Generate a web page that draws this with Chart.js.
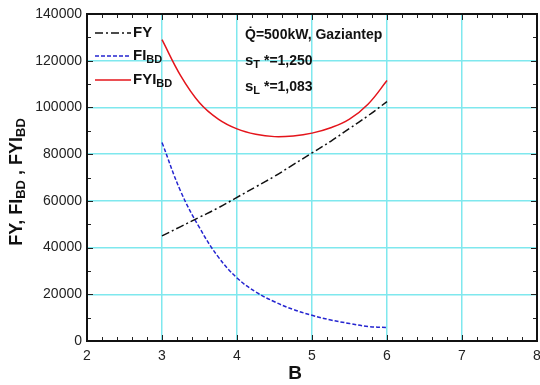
<!DOCTYPE html>
<html>
<head>
<meta charset="utf-8">
<script src="https://cdn.jsdelivr.net/npm/chart.js@4/dist/chart.umd.min.js"></script>
<style>
  html, body { margin: 0; padding: 0; background: #fff; }
  #wrap { width: 540px; height: 385px; position: relative; }
</style>
</head>
<body>
<div id="wrap"><canvas id="fyChart"></canvas></div>
<script>
// B values and cost curves
const bValues = [3, 3.25, 3.5, 3.75, 4, 4.25, 4.5, 4.75, 5, 5.25, 5.5, 5.75, 6];
const fyValues = [45000, 49000, 53000, 57000, 61500, 66000, 70500, 75500, 80500, 85500, 91000, 96500, 102500];
const fiValues = [85000, 64000, 48500, 36000, 27000, 21000, 16800, 13500, 11000, 9000, 7500, 6200, 5800];
const fyiValues = [129000, 113500, 102000, 95000, 90800, 88500, 87500, 87800, 89000, 91300, 95000, 101500, 111500];

const xTicks = [2, 3, 4, 5, 6, 7, 8];
const yTicks = [0, 20000, 40000, 60000, 80000, 100000, 120000, 140000];

const FONT = "'Liberation Sans', Arial, sans-serif";

function toPoints(vals) {
    return bValues.map((b, i) => ({ x: b, y: vals[i] }));
}

// draws "main" followed by a smaller, lowered subscript; returns end x
function drawSub(ctx, x, y, main, sub, size) {
    ctx.font = "bold " + size + "px " + FONT;
    ctx.fillText(main, x, y);
    x += ctx.measureText(main).width;
    if (sub) {
        ctx.font = "bold " + Math.round(size * 0.7) + "px " + FONT;
        ctx.fillText(sub, x, y + size * 0.25);
        x += ctx.measureText(sub).width;
    }
    return x;
}

const decorPlugin = {
    id: "decor",
    afterDraw(chart) {
        const ctx = chart.ctx;
        const a = chart.chartArea;
        const xs = chart.scales.x, ys = chart.scales.y;
        ctx.save();

        // minor ticks, pointing inwards
        ctx.strokeStyle = "#222";
        ctx.lineWidth = 1;
        ctx.beginPath();
        for (let v = 2; v <= 8.001; v += 0.2) {
            const px = Math.round(xs.getPixelForValue(v)) + 0.5;
            const len = Math.abs(v - Math.round(v)) < 0.01 ? 6 : 4;
            ctx.moveTo(px, a.bottom); ctx.lineTo(px, a.bottom - len);
            ctx.moveTo(px, a.top); ctx.lineTo(px, a.top + len);
        }
        for (let v = 0; v <= 140000; v += 10000) {
            const py = Math.round(ys.getPixelForValue(v)) + 0.5;
            const len = v % 20000 === 0 ? 6 : 4;
            ctx.moveTo(a.left, py); ctx.lineTo(a.left + len, py);
            ctx.moveTo(a.right, py); ctx.lineTo(a.right - len, py);
        }
        ctx.stroke();

        // frame
        ctx.strokeStyle = "#111";
        ctx.lineWidth = 2;
        ctx.strokeRect(a.left, a.top, a.right - a.left, a.bottom - a.top);

        // legend
        const legend = [
            { main: "FY", sub: "", color: "#111", dash: [8, 3, 2, 3], y: 33 },
            { main: "FI", sub: "BD", color: "#2525d0", dash: [4, 2], y: 56 },
            { main: "FYI", sub: "BD", color: "#e4141b", dash: [], y: 80 }
        ];
        legend.forEach(l => {
            ctx.strokeStyle = l.color;
            ctx.lineWidth = 1.5;
            ctx.setLineDash(l.dash);
            ctx.beginPath();
            ctx.moveTo(95, l.y);
            ctx.lineTo(131, l.y);
            ctx.stroke();
            ctx.setLineDash([]);
            ctx.fillStyle = "#111";
            ctx.textBaseline = "middle";
            ctx.textAlign = "left";
            drawSub(ctx, 133, l.y, l.main, l.sub, 15);
        });

        // case notes
        ctx.fillStyle = "#111";
        ctx.textBaseline = "middle";
        ctx.font = "bold 14px " + FONT;
        ctx.fillText("Q\u0307=500kW, Gaziantep", 245, 35);
        let ex = drawSub(ctx, 245, 61, "s", "T", 15);
        ctx.font = "bold 14px " + FONT;
        ctx.fillText(" *=1,250", ex, 61);
        ex = drawSub(ctx, 245, 87, "s", "L", 15);
        ctx.font = "bold 14px " + FONT;
        ctx.fillText(" *=1,083", ex, 87);

        // y axis title, rotated
        ctx.translate(17, 182);
        ctx.rotate(-Math.PI / 2);
        ctx.textBaseline = "middle";
        const parts = [["FY, FI", "BD"], [" , FYI", "BD"]];
        let w = 0;
        parts.forEach(p => {
            ctx.font = "bold 18px " + FONT;
            w += ctx.measureText(p[0]).width;
            ctx.font = "bold 13px " + FONT;
            w += ctx.measureText(p[1]).width;
        });
        let tx = -w / 2;
        parts.forEach(p => { tx = drawSub(ctx, tx, 0, p[0], p[1], 18); });
        ctx.restore();

        // x axis title
        ctx.save();
        ctx.fillStyle = "#111";
        ctx.font = "bold 19px " + FONT;
        ctx.textAlign = "center";
        ctx.textBaseline = "middle";
        ctx.fillText("B", 295, 374);
        ctx.restore();
    }
};

const ctx = document.getElementById("fyChart").getContext("2d");
new Chart(ctx, {
    type: "line",
    data: {
        datasets: [
            {
                label: "FY",
                data: toPoints(fyValues),
                borderColor: "#111",
                borderDash: [8, 3, 2, 3],
                borderWidth: 1.5
            },
            {
                label: "FI_BD",
                data: toPoints(fiValues),
                borderColor: "#2525d0",
                borderDash: [4, 2],
                borderWidth: 1.5
            },
            {
                label: "FYI_BD",
                data: toPoints(fyiValues),
                borderColor: "#e4141b",
                borderWidth: 1.5
            }
        ]
    },
    options: {
        responsive: true,
        maintainAspectRatio: false,
        animation: false,
        tension: 0.4,
        elements: { point: { radius: 0 } },
        layout: { padding: { top: 14, right: 3, left: 0, bottom: 0 } },
        plugins: { legend: { display: false }, tooltip: { enabled: false } },
        scales: {
            x: {
                type: "linear",
                min: 2, max: 8,
                afterBuildTicks: s => { s.ticks = xTicks.map(v => ({ value: v })); },
                afterFit: s => { s.height = 44; s.paddingLeft = 0; s.paddingRight = 0; },
                grid: { color: "#7fe8ee", lineWidth: 1.5, drawTicks: false },
                border: { display: false },
                ticks: { color: "#222", font: { family: FONT, size: 14 }, padding: 7 }
            },
            y: {
                min: 0, max: 140000,
                afterBuildTicks: s => { s.ticks = yTicks.map(v => ({ value: v })); },
                afterFit: s => { s.width = 87; s.paddingTop = 0; s.paddingBottom = 0; },
                grid: { color: "#7fe8ee", lineWidth: 1.5, drawTicks: false },
                border: { display: false },
                ticks: {
                    color: "#222",
                    font: { family: FONT, size: 14 },
                    padding: 5,
                    callback: v => String(v)
                }
            }
        }
    },
    plugins: [decorPlugin]
});
</script>
</body>
</html>
